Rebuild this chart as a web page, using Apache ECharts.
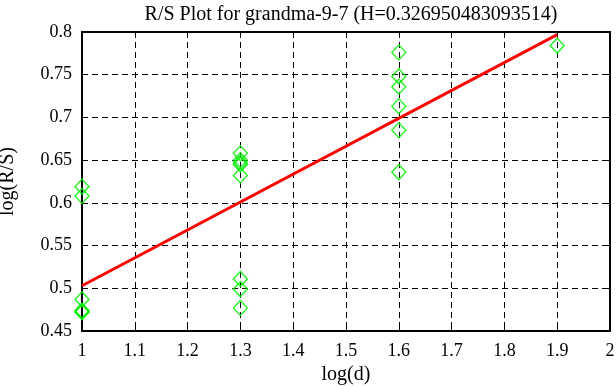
<!DOCTYPE html>
<html><head><meta charset="utf-8">
<script src="https://cdn.jsdelivr.net/npm/echarts@6/dist/echarts.min.js"></script>
<style>html,body{margin:0;padding:0;background:#fff}#c{width:616px;height:387px}</style>
</head><body><div id="c"></div>
<script>
var titleText = 'R/S Plot for grandma-9-7 (H=0.326950483093514)';
var xName = 'log(d)';
var yName = 'log(R/S)';
var ptsX = [1,1,1,1,1,1, 1.3,1.3,1.3,1.3,1.3,1.3,1.3,1.3, 1.6,1.6,1.6,1.6,1.6,1.6, 1.9];
var ptsY = [0.619,0.608,0.487,0.474,0.473,0.472, 0.658,0.650,0.647,0.645,0.632,0.511,0.499,0.477, 0.776,0.748,0.736,0.713,0.685,0.636, 0.784];
var fitX = [1, 1.9];
var fitY = [0.503, 0.797];

var font = 'Liberation Serif';
var chart = echarts.init(document.getElementById('c'), null, {renderer:'canvas'});
var grid = {left:82, right:6, top:32, bottom:56, containLabel:false, outerBoundsMode:'none'};
var scatterData = ptsX.map(function(x,i){return [x, ptsY[i]];});
var lineData = fitX.map(function(x,i){return [x, fitY[i]];});
var axisCommon = {
  axisLine:{show:true, onZero:false, lineStyle:{color:'#000', width:2}},
  axisTick:{show:true, inside:true, length:5, lineStyle:{color:'#000', width:1}},
  splitLine:{show:false}
};
chart.setOption({
  animation:false,
  backgroundColor:'#fff',
  title:{text:titleText, left:346, textAlign:'center', top:0,
    textStyle:{fontFamily:font, fontSize:20, fontWeight:'normal', color:'#000'}},
  grid:grid,
  xAxis:[
    Object.assign({type:'value', min:1, max:2, interval:0.1, position:'bottom',
      name:xName, nameLocation:'middle', nameGap:33,
      nameTextStyle:{fontFamily:font, fontSize:20, color:'#000'},
      axisLabel:{fontFamily:font, fontSize:18, color:'#000', margin:11},
      }, axisCommon, {splitLine:{show:true, lineStyle:{color:'#000', type:[6,4], width:1}}}),
    Object.assign({type:'value', min:1, max:2, interval:0.1, position:'top',
      axisLabel:{show:false}}, axisCommon)
  ],
  yAxis:[
    Object.assign({type:'value', min:0.45, max:0.8, interval:0.05, position:'left',
      name:yName, nameLocation:'middle', nameGap:64, nameRotate:90,
      nameTextStyle:{fontFamily:font, fontSize:20, color:'#000'},
      axisLabel:{fontFamily:font, fontSize:18, color:'#000', margin:10},
      }, axisCommon, {splitLine:{show:true, lineStyle:{color:'#000', type:[6,4], width:1}}}),
    Object.assign({type:'value', min:0.45, max:0.8, interval:0.05, position:'right',
      axisLabel:{show:false}}, axisCommon)
  ],
  series:[
    {type:'scatter', data:scatterData, symbol:'diamond', symbolSize:[14,15],
      itemStyle:{color:'rgba(0,0,0,0)', borderColor:'#00ee00', borderWidth:1.5}, z:3},
    {type:'line', data:lineData, showSymbol:false, symbol:'none',
      lineStyle:{color:'#ff0000', width:3}, z:4}
  ]
});
</script></body></html>
